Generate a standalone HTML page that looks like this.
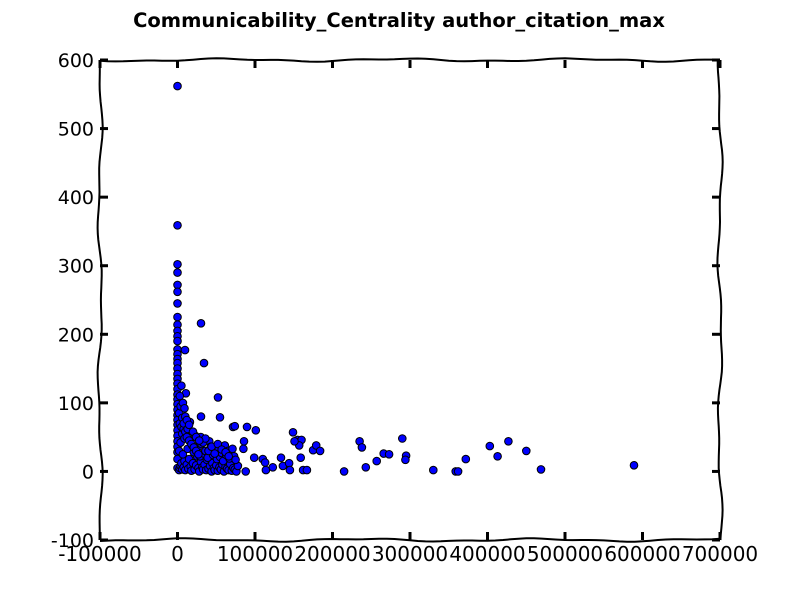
<!DOCTYPE html>
<html><head><meta charset="utf-8"><style>
body{margin:0;background:#fff}
svg{display:block}
text{font-family:"DejaVu Sans","Liberation Sans",sans-serif;fill:#000}
</style></head><body>
<svg id="chart" width="800" height="600"></svg>
<script>
const xTicks=[-100000,0,100000,200000,300000,400000,500000,600000,700000];
const yTicks=[-100,0,100,200,300,400,500,600];
const xVals=[0,0,0,0,0,0,0,0,0,0,0,0,0,0,0,0,0,0,0,0,0,0,0,0,0,0,0,0,0,0,0,0,0,0,0,
30300,34200,52300,9700,10900,54800,30300,
149000,155000,160000,157000,151000,175000,179000,184000,215000,235000,238000,243000,257000,266000,273000,290000,295000,294000,330000,359000,362000,372000,403000,413000,427000,450000,469000,589000,
71600,74000,89700,101000,85800,85000,99000,110000,114000,123000,133500,136000,144000,145000,159000,162000,167000,88000,113000,
2000,3000,4000,5000,6000,8000,9000,10000,12000,14000,15000,17000,18000,20000,22000,24000,25000,27000,28000,30000,32000,33000,35000,37000,38000,40000,42000,44000,45000,47000,48000,50000,52000,54000,56000,58000,60000,62000,64000,66000,68000,70000,72000,74000,76000,78000,
2000,4000,6000,7000,9000,11000,13000,16000,19000,21000,23000,26000,29000,31000,34000,36000,39000,41000,43000,46000,49000,51000,53000,55000,57000,59000,61000,63000,65000,67000,69000,71000,73000,75000,
3000,5000,8000,10000,12000,15000,18000,21000,24000,27000,30000,33000,36000,40000,44000,48000,52000,57000,62000,66000,
2000,4000,6000,8000,10000,13000,16000,20000,24000,28000,
3000,5000,7000,9000,12000,15000];
const yVals=[562,359,302,290,272,262,245,225,214,205,197,190,178,171,164,158,150,142,135,128,120,112,105,98,90,82,75,68,60,52,44,36,28,18,5,
216,158,108,177,114,79,80,
57,46,46,38,44,31,38,30,0,44,35,6,15,26,25,48,23,17,2,0,0,18,37,22,44,30,3,9,
65,66,65,60,44,33,20,18,2,6,20,8,12,2,20,2,2,0,13,
2,5,8,12,3,6,15,2,10,4,18,7,1,12,3,9,22,5,0,14,6,3,10,2,17,4,8,0,12,5,2,9,1,6,3,10,0,7,4,2,11,1,5,3,0,8,
30,42,55,25,48,60,33,45,38,28,52,35,22,40,26,30,20,44,36,24,28,18,32,21,27,15,38,24,30,19,26,33,22,17,
70,65,62,58,50,45,40,35,30,25,50,42,48,30,36,26,40,32,28,22,
85,95,78,70,80,62,72,58,50,45,
110,125,100,92,75,68];

const L=100,R=720,T=60,B=540;
const sx=v=>L+(v-xTicks[0])/(xTicks[xTicks.length-1]-xTicks[0])*(R-L);
const sy=v=>B-(v-yTicks[0])/(yTicks[yTicks.length-1]-yTicks[0])*(B-T);
const NS="http://www.w3.org/2000/svg";
const svg=document.getElementById('chart');
function mk(tag,attrs,parent){const e=document.createElementNS(NS,tag);for(const k in attrs)e.setAttribute(k,attrs[k]);(parent||svg).appendChild(e);return e;}

const title=mk('text',{x:399,y:27,'text-anchor':'middle','font-size':'19.5','font-weight':'bold'});
title.textContent='Communicability_Centrality author_citation_max';



const pts=mk('g',{});


for(let i=0;i<xVals.length;i++){
  const c=mk('circle',{cx:sx(xVals[i]).toFixed(1),cy:sy(yVals[i]).toFixed(1),r:3.8,fill:'#0000ff',stroke:'#000','stroke-width':1},pts);
  
  
}

function wavy(x1,y1,x2,y2,ph,amp){
  const n=80;let d='';
  const len=Math.hypot(x2-x1,y2-y1),nx=-(y2-y1)/len,ny=(x2-x1)/len;
  for(let i=0;i<=n;i++){const t=i/n;const o=amp*(Math.sin(t*len/28+ph)+0.5*Math.sin(t*len/11+ph*2));
    d+=(i?'L':'M')+(x1+(x2-x1)*t+nx*o).toFixed(1)+','+(y1+(y2-y1)*t+ny*o).toFixed(1);}
  return d;
}
const frame=mk('g',{fill:'none',stroke:'#000','stroke-width':2});


mk('path',{d:wavy(L,T,R,T,0.3,1.2)},frame);
mk('path',{d:wavy(L,B,R,B,1.7,1.2)},frame);
mk('path',{d:wavy(L,T,L,B,2.4,1.8)},frame);
mk('path',{d:wavy(R,T,R,B,0.9,1.8)},frame);

const xa=mk('g',{});


xTicks.forEach(v=>{const x=sx(v);
  mk('line',{x1:x,y1:B,x2:x,y2:B-8,stroke:'#000','stroke-width':3},xa);
  mk('line',{x1:x,y1:T,x2:x,y2:T+8,stroke:'#000','stroke-width':3},xa);
  const t=mk('text',{x:x,y:B+21,'text-anchor':'middle','font-size':'20'},xa);t.textContent=v;
  
  
});
const ya=mk('g',{});


yTicks.forEach(v=>{const y=sy(v);
  mk('line',{x1:L,y1:y,x2:L+8,y2:y,stroke:'#000','stroke-width':3},ya);
  mk('line',{x1:R,y1:y,x2:R-8,y2:y,stroke:'#000','stroke-width':3},ya);
  const t=mk('text',{x:L-6,y:y+7,'text-anchor':'end','font-size':'19'},ya);t.textContent=v;
  
  
});
</script>
</body></html>
